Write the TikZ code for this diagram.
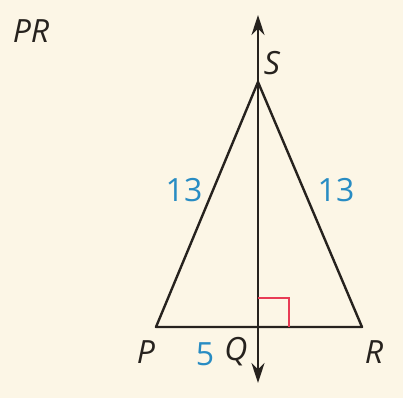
\documentclass[tikz,border=0pt]{standalone}
\usepackage{fontspec}
\setmainfont{Open Sans}
\usepackage{tikz}
\usetikzlibrary{arrows.meta, positioning, calc}
\usepackage{xcolor}
\definecolor{paper}{RGB}{252,246,230}
\definecolor{ink}{RGB}{38,34,30}
\definecolor{measure}{RGB}{40,140,195}
\definecolor{rightmark}{RGB}{232,60,85}

\begin{document}
\begin{tikzpicture}[
    x=0.5pt, y=-0.5pt,
    seg/.style={draw=ink, line width=1.2pt},
    pointlabel/.style={text=ink, font=\fontsize{16}{18}\selectfont\itshape, inner sep=0pt},
    lengthlabel/.style={text=measure, font=\fontsize{16}{18}\selectfont, inner sep=0pt}
]
    \fill[paper] (0,0) rectangle (403,398);
    \useasboundingbox (0,0) rectangle (403,398);

    \coordinate (P) at (156,327);
    \coordinate (Q) at (258,327);
    \coordinate (R) at (362,327);
    \coordinate (S) at (258,82);
    \coordinate (top) at (258,15);
    \coordinate (bottom) at (258,383);

    % triangle and the line through S and Q
    \draw[seg, line join=round] (P) -- (S) -- (R) -- cycle;
    \draw[seg, {Stealth[length=10pt, width=6.5pt]}-{Stealth[length=10pt, width=6.5pt]}] (top) -- (bottom);
    \draw[draw=rightmark, line width=0.7pt] ($(Q)+(0,-29)$) -| ($(Q)+(31,0)$);

    \node[pointlabel] (title) at (31,31) {PR};
    \node[pointlabel] (labS) at (272,63) {S};
    \node[pointlabel] (labP) at (146,352) {P};
    \node[pointlabel] (labQ) at (236,352) {Q};
    \node[pointlabel] (labR) at (374,352) {R};
    \node[lengthlabel] (sideSP) at (184,190) {13};
    \node[lengthlabel] (sideSR) at (336,190) {13};
    \node[lengthlabel] (sidePQ) at (205,354) {5};
\end{tikzpicture}
\end{document}
